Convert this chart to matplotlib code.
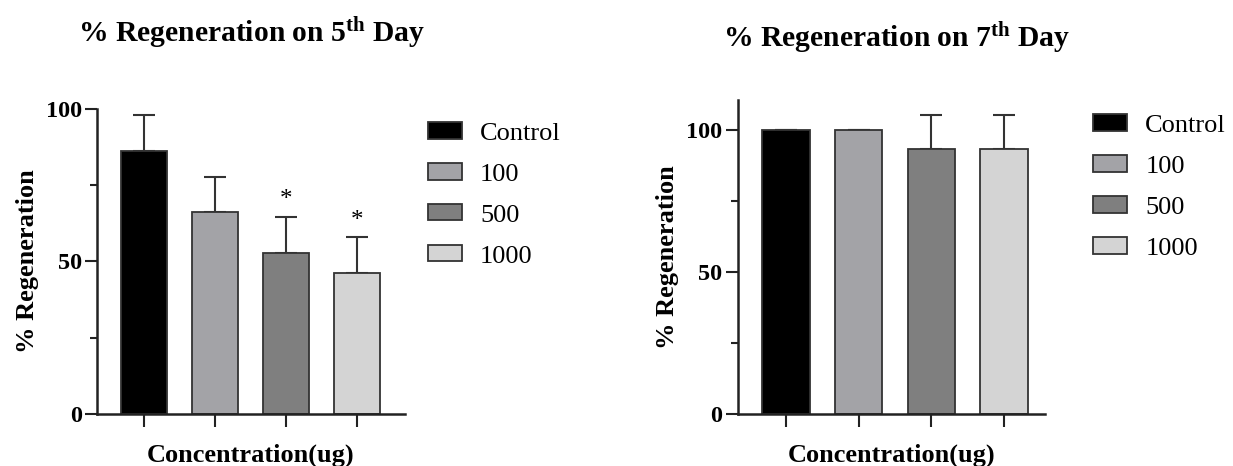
import matplotlib.pyplot as plt
from matplotlib.patches import Patch
from matplotlib.ticker import MultipleLocator

plt.rcParams["font.family"] = "Liberation Serif"
plt.rcParams["mathtext.fontset"] = "custom"
plt.rcParams["mathtext.rm"] = "Liberation Serif:bold"
plt.rcParams["mathtext.bf"] = "Liberation Serif:bold"
plt.rcParams["mathtext.it"] = "Liberation Serif:bold"

# data
groups = ["Control", "100", "500", "1000"]
colors = ["#000000", "#a3a3a7", "#7f7f7f", "#d4d4d4"]

day5_mean = [86.2, 66.1, 52.8, 46.2]
day5_err = [11.8, 11.7, 11.8, 11.7]
day5_sig = ["", "", "*", "*"]

day7_mean = [100.0, 100.0, 93.3, 93.3]
day7_err = [0.0, 0.0, 11.9, 11.9]
day7_sig = ["", "", "", ""]

EDGE = "#333333"


def draw_panel(ax, means, errs, sig, ylim, xlim):
    x = list(range(len(groups)))
    ax.bar(x, means, width=0.65, color=colors, edgecolor=EDGE, linewidth=1.3, zorder=2)
    ax.errorbar(
        x, means, yerr=[[0] * len(errs), errs], fmt="none",
        ecolor=EDGE, elinewidth=1.5, capsize=8, capthick=1.5, zorder=1,
    )
    for xi, m, e, s in zip(x, means, errs, sig):
        if s:
            ax.annotate(s, (xi, m + e), xytext=(0, 4), textcoords="offset points",
                        ha="center", va="bottom", fontsize=18)
    ax.set_xlim(*xlim)
    ax.set_ylim(*ylim)
    ax.set_xticks(x)
    ax.set_xticklabels([])
    ax.yaxis.set_major_locator(MultipleLocator(50))
    ax.yaxis.set_minor_locator(MultipleLocator(25))
    ax.tick_params(axis="both", which="major", direction="out", length=9, width=1.5,
                   labelsize=17.5, pad=2, color="#222222")
    ax.tick_params(axis="y", which="minor", direction="out", length=5, width=1.5,
                   color="#222222")
    for lab in ax.get_yticklabels():
        lab.set_fontweight("bold")
    for side in ["top", "right"]:
        ax.spines[side].set_visible(False)
    for side in ["left", "bottom"]:
        ax.spines[side].set_linewidth(1.8)
        ax.spines[side].set_color("#222222")
    ax.set_xlabel("Concentration(ug)", fontsize=19, fontweight="bold", labelpad=10)
    ax.set_ylabel("% Regeneration", fontsize=19, fontweight="bold", labelpad=5)


fig = plt.figure(figsize=(12.33, 4.66), dpi=100)

ax1 = fig.add_axes([0.0787, 0.1116, 0.2498, 0.6545])
draw_panel(ax1, day5_mean, day5_err, day5_sig, (0, 100), (-0.658, 3.68))

ax2 = fig.add_axes([0.5983, 0.1116, 0.2492, 0.674])
draw_panel(ax2, day7_mean, day7_err, day7_sig, (0, 110.5), (-0.664, 3.563))

fig.text(0.2036, 0.928, "% Regeneration on 5$^{\\mathrm{th}}$ Day", ha="center",
         va="center", fontsize=21.3, fontweight="bold")
fig.text(0.7267, 0.917, "% Regeneration on 7$^{\\mathrm{th}}$ Day", ha="center",
         va="center", fontsize=21.3, fontweight="bold")

handles = [Patch(facecolor=c, edgecolor=EDGE, linewidth=1.3) for c in colors]
for anchor in [(0.347, 0.738), (0.8865, 0.755)]:
    fig.legend(handles, groups, loc="upper left", bbox_to_anchor=anchor, frameon=False,
               fontsize=19, handlelength=1.3, handleheight=0.58, handletextpad=0.68,
               labelspacing=0.7, borderpad=0, borderaxespad=0)

fig.savefig("out.png", dpi=100)
